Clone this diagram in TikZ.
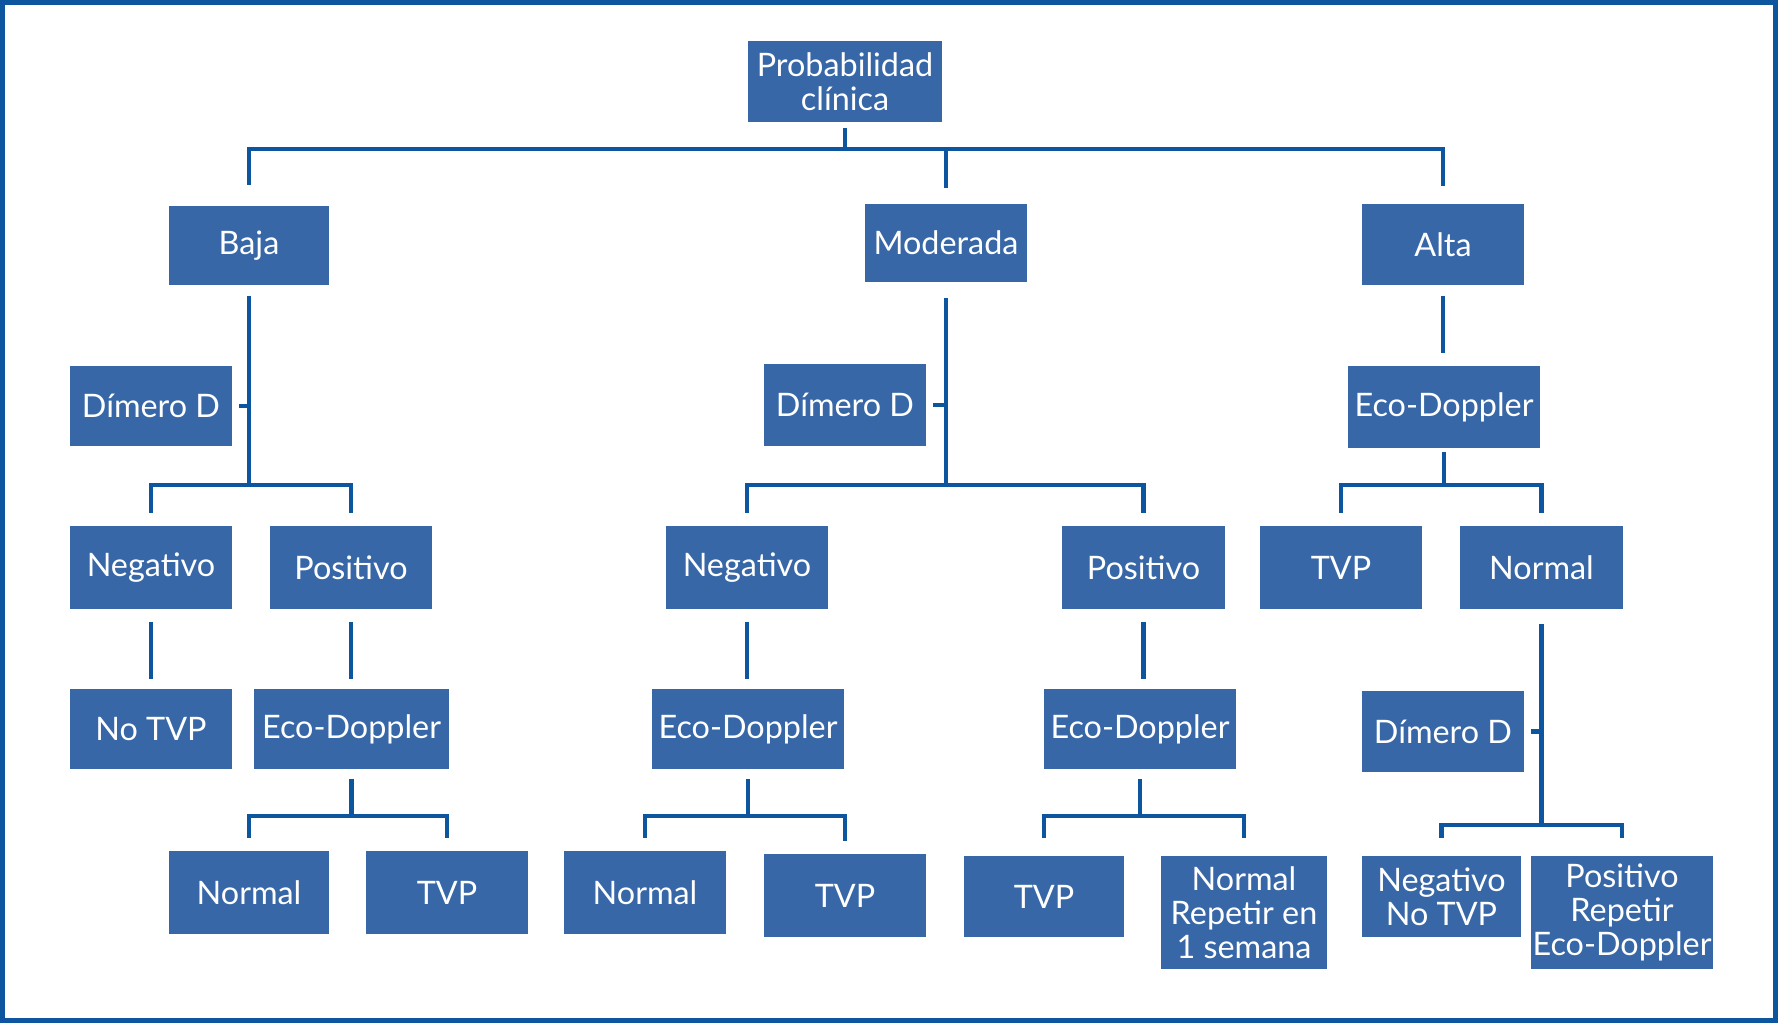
\documentclass[tikz,border=0pt]{standalone}
\usepackage{fontspec}
\setmainfont{Lato}
\usepackage{xcolor}
\definecolor{boxblue}{RGB}{55,103,167}
\definecolor{lineblue}{RGB}{14,85,160}

\begin{document}
\begin{tikzpicture}[x=0.01cm, y=-0.01cm,
    box/.style={rectangle, fill=boxblue, text=white, inner sep=0pt,
      minimum width=1.62cm, minimum height=0.8cm, align=center,
      font=\fontsize{9.2}{9.6}\selectfont},
    link/.style={lineblue, line width=1.3pt}]
    \useasboundingbox (0,0) rectangle (1778,1023);
    \draw[lineblue, line width=0.05cm] (2.5,2.5) rectangle (1775.5,1020.5);

    % nivel 0 y 1
    \node (prob) [box, minimum width=1.94cm, minimum height=0.81cm] at (845,81.5) {Probabilidad\\clínica};
    \node (baja) [box, minimum width=1.60cm, minimum height=0.79cm] at (249,245.5) {Baja};
    \node (moderada) [box, minimum height=0.78cm] at (946,243) {Moderada};
    \node (alta) [box, minimum height=0.81cm] at (1443,244.5) {Alta};

    % nivel 2
    \node (dimL) [box] at (151,406) {Dímero D};
    \node (dimM) [box, minimum height=0.82cm] at (845,405) {Dímero D};
    \node (ecoR) [box, minimum width=1.92cm, minimum height=0.82cm] at (1444,407) {Eco-Doppler};

    % nivel 3
    \node (negL) [box, minimum height=0.83cm] at (151,567.5) {Negativo};
    \node (posL) [box, minimum height=0.83cm] at (351,567.5) {Positivo};
    \node (negM) [box, minimum height=0.83cm] at (747,567.5) {Negativo};
    \node (posM) [box, minimum height=0.83cm] at (1143.5,567.5) {Positivo};
    \node (tvpR) [box, minimum height=0.83cm] at (1341,567.5) {TVP};
    \node (normR) [box, minimum height=0.83cm] at (1541.5,567.5) {Normal};

    % nivel 4
    \node (notvpL) [box] at (151,729) {No TVP};
    \node (ecoL) [box, minimum width=1.95cm] at (351.5,729) {Eco-Doppler};
    \node (ecoM) [box, minimum width=1.92cm] at (748,729) {Eco-Doppler};
    \node (ecoMR) [box, minimum width=1.92cm] at (1140,729) {Eco-Doppler};
    \node (dimR) [box] at (1443,731.5) {Dímero D};

    % nivel 5
    \node (normL) [box, minimum width=1.60cm, minimum height=0.83cm] at (249,892.5) {Normal};
    \node (tvpL) [box, minimum height=0.83cm] at (447,892.5) {TVP};
    \node (normM) [box, minimum height=0.83cm] at (645,892.5) {Normal};
    \node (tvpM) [box, minimum height=0.83cm] at (845,895.5) {TVP};
    \node (tvpMR) [box, minimum width=1.60cm, minimum height=0.81cm] at (1044,896.5) {TVP};
    \node (repetir) [box, minimum width=1.66cm, minimum height=1.13cm] at (1244,912.5) {Normal\\Repetir en\\1 semana};
    \node (negNo) [box, minimum width=1.59cm, minimum height=0.81cm] at (1441.5,896.5) {Negativo\\No TVP};
    \node (posRep) [box, minimum width=1.82cm, minimum height=1.13cm] at (1622,912.5) {Positivo\\Repetir\\Eco-Doppler};

    % barras
    \coordinate (topbus) at (849,149);
    \coordinate (bus1) at (0,485);
    \coordinate (bus2) at (0,816);
    \coordinate (bus3) at (0,825);

    \draw[link, shorten <=0.05cm] (prob.south) -- (prob.south |- topbus);
    \draw[link, shorten >=0.2cm] (prob.south |- topbus) -| (baja.north);
    \draw[link, shorten >=0.15cm] (prob.south |- topbus) -| (moderada.north);
    \draw[link, shorten >=0.17cm] (prob.south |- topbus) -| (alta.north);

    \draw[link, shorten <=0.1cm] (baja.south) -- (baja.south |- bus1);
    \draw[link, shorten <=0.06cm] (dimL.east) -- (dimL.east -| baja.south);
    \draw[link, shorten >=0.12cm] (baja.south |- bus1) -| (negL.north);
    \draw[link, shorten >=0.12cm] (baja.south |- bus1) -| (posL.north);

    \draw[link, shorten <=0.15cm] (moderada.south) -- (moderada.south |- bus1);
    \draw[link, shorten <=0.06cm] (dimM.east) -- (dimM.east -| moderada.south);
    \draw[link, shorten >=0.12cm] (moderada.south |- bus1) -| (negM.north);
    \draw[link, shorten >=0.12cm] (moderada.south |- bus1) -| (posM.north);

    \draw[link, shorten <=0.1cm, shorten >=0.12cm] (alta.south) -- (alta.south |- ecoR.north);
    \draw[link, shorten <=0.03cm] (ecoR.south) -- (ecoR.south |- bus1);
    \draw[link, shorten >=0.12cm] (ecoR.south |- bus1) -| (tvpR.north);
    \draw[link, shorten >=0.12cm] (ecoR.south |- bus1) -| (normR.north);

    \draw[link, shorten <=0.12cm, shorten >=0.09cm] (negL.south) -- (negL.south |- notvpL.north);
    \draw[link, shorten <=0.12cm, shorten >=0.09cm] (posL.south) -- (posL.south |- ecoL.north);
    \draw[link, shorten <=0.12cm, shorten >=0.09cm] (negM.south) -- (negM.south |- ecoM.north);
    \draw[link, shorten <=0.12cm, shorten >=0.09cm] (posM.south) -- (posM.south |- ecoMR.north);

    \draw[link, shorten <=0.09cm] (ecoL.south) -- (ecoL.south |- bus2);
    \draw[link, shorten >=0.12cm] (ecoL.south |- bus2) -| (normL.north);
    \draw[link, shorten >=0.12cm] (ecoL.south |- bus2) -| (tvpL.north);

    \draw[link, shorten <=0.09cm] (ecoM.south) -- (ecoM.south |- bus2);
    \draw[link, shorten >=0.12cm] (ecoM.south |- bus2) -| (normM.north);
    \draw[link, shorten >=0.12cm] (ecoM.south |- bus2) -| (tvpM.north);

    \draw[link, shorten <=0.09cm] (ecoMR.south) -- (ecoMR.south |- bus2);
    \draw[link, shorten >=0.17cm] (ecoMR.south |- bus2) -| (tvpMR.north);
    \draw[link, shorten >=0.17cm] (ecoMR.south |- bus2) -| (repetir.north);

    \draw[link, shorten <=0.14cm] (normR.south) -- (normR.south |- bus3);
    \draw[link, shorten <=0.06cm] (dimR.east) -- (dimR.east -| normR.south);
    \draw[link, shorten >=0.17cm] (normR.south |- bus3) -| (negNo.north);
    \draw[link, shorten >=0.17cm] (normR.south |- bus3) -| (posRep.north);
\end{tikzpicture}
\end{document}
